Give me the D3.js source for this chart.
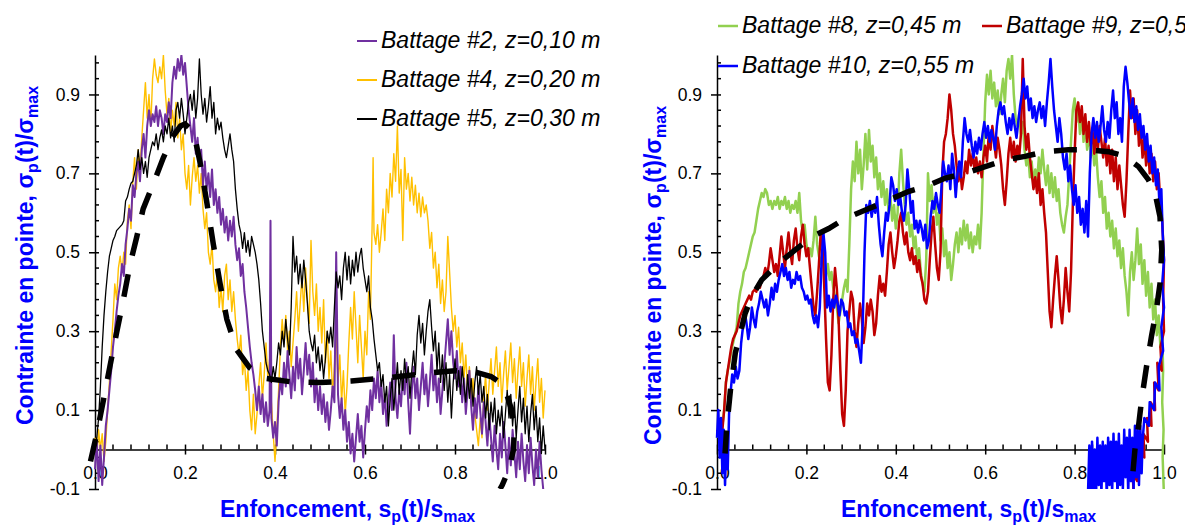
<!DOCTYPE html>
<html><head><meta charset="utf-8">
<script src="https://cdn.jsdelivr.net/npm/d3@7"></script>
<style>body{margin:0;background:#fff}svg{display:block}</style>
</head><body><svg id="c" width="1197" height="525"></svg>
<script>
const xTickValues=[0,0.2,0.4,0.6,0.8,1.0];
const yTickValues=[-0.1,0.1,0.3,0.5,0.7,0.9];
const leftNames=["Battage #2, z=0,10 m","Battage #4, z=0,20 m","Battage #5, z=0,30 m"];
const rightNames=["Battage #8, z=0,45 m","Battage #9, z=0,50 m","Battage #10, z=0,55 m"];

const battage2=[[0.000,-0.05],[0.004,0.02],[0.008,-0.08],[0.012,0.01],[0.016,-0.09],[0.020,-0.02],[0.024,0.06],[0.028,0.10],[0.032,0.15],[0.036,0.20],[0.040,0.26],[0.044,0.30],[0.048,0.35],[0.052,0.39],[0.056,0.42],[0.060,0.47],[0.064,0.44],[0.068,0.52],[0.072,0.56],[0.076,0.61],[0.080,0.58],[0.084,0.67],[0.088,0.64],[0.092,0.70],[0.096,0.73],[0.100,0.68],[0.104,0.76],[0.108,0.80],[0.112,0.74],[0.116,0.82],[0.120,0.86],[0.124,0.82],[0.128,0.85],[0.132,0.83],[0.136,0.87],[0.140,0.82],[0.144,0.86],[0.148,0.84],[0.152,0.80],[0.156,0.85],[0.160,0.83],[0.164,0.88],[0.168,0.84],[0.172,0.93],[0.176,0.97],[0.180,0.94],[0.184,0.99],[0.188,0.96],[0.192,1.00],[0.196,0.95],[0.200,0.98],[0.204,0.92],[0.208,0.86],[0.212,0.82],[0.216,0.78],[0.220,0.84],[0.224,0.75],[0.228,0.79],[0.232,0.72],[0.236,0.76],[0.240,0.67],[0.244,0.73],[0.248,0.66],[0.252,0.70],[0.256,0.64],[0.260,0.71],[0.264,0.62],[0.268,0.66],[0.272,0.60],[0.276,0.64],[0.280,0.57],[0.284,0.61],[0.288,0.55],[0.292,0.59],[0.296,0.53],[0.300,0.58],[0.304,0.54],[0.308,0.59],[0.312,0.52],[0.316,0.48],[0.320,0.51],[0.324,0.44],[0.328,0.47],[0.332,0.40],[0.336,0.36],[0.340,0.31],[0.344,0.26],[0.348,0.22],[0.352,0.19],[0.356,0.15],[0.360,0.10],[0.364,0.16],[0.368,0.09],[0.372,0.14],[0.376,0.07],[0.380,0.12],[0.384,0.06],[0.388,0.10],[0.390,0.58],[0.392,0.08],[0.396,0.03],[0.400,0.07],[0.404,0.01],[0.408,0.12],[0.412,0.18],[0.416,0.14],[0.420,0.22],[0.424,0.16],[0.428,0.25],[0.432,0.19],[0.436,0.13],[0.440,0.21],[0.444,0.15],[0.448,0.26],[0.452,0.18],[0.456,0.23],[0.460,0.14],[0.464,0.20],[0.468,0.27],[0.472,0.19],[0.476,0.24],[0.480,0.16],[0.484,0.22],[0.488,0.12],[0.492,0.18],[0.496,0.10],[0.500,0.16],[0.504,0.09],[0.508,0.14],[0.512,0.07],[0.516,0.12],[0.520,0.05],[0.524,0.10],[0.528,0.16],[0.532,0.12],[0.536,0.50],[0.540,0.14],[0.544,0.08],[0.548,0.13],[0.552,0.05],[0.556,0.10],[0.560,0.02],[0.564,0.07],[0.568,-0.01],[0.572,0.04],[0.576,-0.03],[0.580,0.03],[0.584,0.09],[0.588,0.02],[0.592,0.06],[0.596,-0.02],[0.600,0.05],[0.604,0.11],[0.608,0.07],[0.612,0.15],[0.616,0.10],[0.620,0.18],[0.624,0.13],[0.628,0.20],[0.632,0.12],[0.636,0.17],[0.640,0.09],[0.644,0.14],[0.648,0.06],[0.652,0.12],[0.656,0.17],[0.660,0.10],[0.664,0.29],[0.668,0.13],[0.672,0.08],[0.676,0.15],[0.680,0.11],[0.684,0.19],[0.688,0.14],[0.692,0.22],[0.696,0.12],[0.700,0.04],[0.704,0.15],[0.708,0.21],[0.712,0.13],[0.716,0.18],[0.720,0.10],[0.724,0.16],[0.728,0.22],[0.732,0.14],[0.736,0.19],[0.740,0.11],[0.744,0.17],[0.748,0.24],[0.752,0.15],[0.756,0.20],[0.760,0.12],[0.764,0.18],[0.768,0.09],[0.772,0.15],[0.776,0.21],[0.780,0.27],[0.784,0.33],[0.788,0.24],[0.792,0.30],[0.796,0.22],[0.800,0.18],[0.804,0.25],[0.808,0.16],[0.812,0.21],[0.816,0.12],[0.820,0.18],[0.824,0.09],[0.828,0.15],[0.832,0.20],[0.836,0.11],[0.840,0.05],[0.844,0.13],[0.848,0.08],[0.852,0.16],[0.856,0.10],[0.860,0.04],[0.864,0.12],[0.868,0.07],[0.872,0.01],[0.876,0.09],[0.880,0.03],[0.884,-0.03],[0.888,0.06],[0.892,0.00],[0.896,-0.05],[0.900,0.04],[0.904,-0.02],[0.908,0.07],[0.912,0.01],[0.916,-0.06],[0.920,0.03],[0.924,-0.04],[0.928,0.05],[0.932,-0.01],[0.936,-0.07],[0.940,0.02],[0.944,-0.05],[0.948,0.04],[0.952,-0.03],[0.956,-0.08],[0.960,0.01],[0.964,-0.06],[0.968,0.03],[0.972,-0.04],[0.976,-0.09],[0.980,0.00],[0.984,-0.07],[0.988,0.02],[0.992,-0.05],[0.996,-0.10],[1.000,-0.11]];

const battage4=[[0.000,0.03],[0.004,-0.02],[0.008,0.05],[0.012,0.00],[0.016,0.04],[0.020,-0.03],[0.024,0.02],[0.028,0.10],[0.032,0.17],[0.036,0.25],[0.040,0.33],[0.044,0.42],[0.048,0.38],[0.052,0.46],[0.056,0.49],[0.060,0.45],[0.064,0.50],[0.068,0.47],[0.072,0.58],[0.076,0.62],[0.080,0.56],[0.084,0.68],[0.088,0.74],[0.092,0.66],[0.096,0.76],[0.100,0.71],[0.104,0.79],[0.108,0.86],[0.112,0.93],[0.116,0.84],[0.120,0.90],[0.124,0.82],[0.128,0.94],[0.132,0.99],[0.136,0.95],[0.140,0.93],[0.144,0.97],[0.148,0.94],[0.152,1.00],[0.156,0.91],[0.160,0.85],[0.164,0.89],[0.168,0.80],[0.172,0.86],[0.176,0.82],[0.180,0.88],[0.184,0.79],[0.188,0.84],[0.192,0.76],[0.196,0.80],[0.200,0.70],[0.204,0.66],[0.208,0.72],[0.212,0.62],[0.216,0.69],[0.220,0.74],[0.224,0.68],[0.228,0.72],[0.232,0.65],[0.236,0.70],[0.240,0.61],[0.244,0.56],[0.248,0.60],[0.252,0.50],[0.256,0.47],[0.260,0.52],[0.264,0.43],[0.268,0.40],[0.272,0.45],[0.276,0.36],[0.280,0.41],[0.284,0.35],[0.288,0.44],[0.292,0.47],[0.296,0.38],[0.300,0.43],[0.304,0.35],[0.308,0.40],[0.312,0.33],[0.316,0.28],[0.320,0.24],[0.324,0.29],[0.328,0.19],[0.332,0.23],[0.336,0.15],[0.340,0.20],[0.344,0.10],[0.348,0.05],[0.352,0.14],[0.356,0.04],[0.360,0.09],[0.364,0.16],[0.368,0.22],[0.372,0.13],[0.376,0.19],[0.380,0.27],[0.384,0.18],[0.388,0.23],[0.392,0.12],[0.396,0.04],[0.400,-0.03],[0.404,0.05],[0.408,0.15],[0.412,0.26],[0.416,0.33],[0.420,0.27],[0.424,0.34],[0.428,0.25],[0.432,0.30],[0.436,0.21],[0.440,0.27],[0.444,0.33],[0.448,0.40],[0.452,0.30],[0.456,0.37],[0.460,0.44],[0.464,0.35],[0.468,0.46],[0.472,0.38],[0.476,0.32],[0.480,0.53],[0.484,0.40],[0.488,0.34],[0.492,0.42],[0.496,0.30],[0.500,0.36],[0.504,0.27],[0.508,0.38],[0.512,0.22],[0.516,0.30],[0.520,0.18],[0.524,0.25],[0.528,0.14],[0.532,0.21],[0.536,0.30],[0.540,0.17],[0.544,0.24],[0.548,0.12],[0.552,0.20],[0.556,0.09],[0.560,0.16],[0.564,0.27],[0.568,0.36],[0.572,0.28],[0.576,0.40],[0.580,0.31],[0.584,0.22],[0.588,0.34],[0.592,0.26],[0.596,0.18],[0.600,0.30],[0.604,0.24],[0.608,0.40],[0.612,0.33],[0.616,0.58],[0.618,0.74],[0.620,0.55],[0.624,0.52],[0.628,0.57],[0.632,0.50],[0.636,0.55],[0.640,0.61],[0.644,0.53],[0.648,0.66],[0.652,0.60],[0.656,0.70],[0.660,0.64],[0.664,0.75],[0.668,0.68],[0.672,0.82],[0.676,0.65],[0.680,0.71],[0.684,0.53],[0.688,0.74],[0.692,0.66],[0.696,0.70],[0.700,0.63],[0.704,0.69],[0.708,0.62],[0.712,0.67],[0.716,0.60],[0.720,0.65],[0.724,0.59],[0.728,0.64],[0.732,0.60],[0.736,0.62],[0.740,0.58],[0.744,0.51],[0.748,0.55],[0.752,0.46],[0.756,0.50],[0.760,0.41],[0.764,0.47],[0.768,0.37],[0.772,0.43],[0.776,0.35],[0.780,0.40],[0.784,0.54],[0.788,0.45],[0.792,0.36],[0.796,0.30],[0.800,0.34],[0.804,0.26],[0.808,0.31],[0.812,0.22],[0.816,0.27],[0.820,0.18],[0.824,0.24],[0.828,0.15],[0.832,0.21],[0.836,0.12],[0.840,0.18],[0.844,0.09],[0.848,0.05],[0.852,0.01],[0.856,0.08],[0.860,0.03],[0.864,0.13],[0.868,0.19],[0.872,0.10],[0.876,0.17],[0.880,0.23],[0.884,0.14],[0.888,0.20],[0.892,0.26],[0.896,0.16],[0.900,0.22],[0.904,0.12],[0.908,0.19],[0.912,0.25],[0.916,0.15],[0.920,0.21],[0.924,0.27],[0.928,0.17],[0.932,0.23],[0.936,0.13],[0.940,0.20],[0.944,0.26],[0.948,0.16],[0.952,0.22],[0.956,0.11],[0.960,0.18],[0.964,0.24],[0.968,0.14],[0.972,0.21],[0.976,0.10],[0.980,0.17],[0.984,0.23],[0.988,0.12],[0.992,0.18],[0.996,0.08],[1.000,0.15]];

const battage5=[[0.000,0.00],[0.004,0.03],[0.008,0.08],[0.012,0.16],[0.016,0.26],[0.020,0.34],[0.024,0.40],[0.028,0.45],[0.032,0.49],[0.036,0.51],[0.040,0.53],[0.044,0.54],[0.048,0.555],[0.052,0.56],[0.056,0.565],[0.060,0.57],[0.064,0.58],[0.068,0.63],[0.072,0.64],[0.076,0.66],[0.080,0.675],[0.084,0.68],[0.088,0.70],[0.092,0.72],[0.096,0.76],[0.100,0.71],[0.104,0.74],[0.108,0.70],[0.112,0.73],[0.116,0.69],[0.120,0.74],[0.124,0.76],[0.128,0.78],[0.132,0.77],[0.136,0.80],[0.140,0.76],[0.144,0.79],[0.148,0.81],[0.152,0.78],[0.156,0.82],[0.160,0.80],[0.164,0.84],[0.168,0.79],[0.172,0.82],[0.176,0.78],[0.180,0.86],[0.184,0.88],[0.188,0.84],[0.192,0.89],[0.196,0.85],[0.200,0.80],[0.204,0.84],[0.208,0.88],[0.212,0.90],[0.216,0.86],[0.220,0.91],[0.224,0.84],[0.228,0.89],[0.232,0.99],[0.236,0.90],[0.240,0.85],[0.244,0.89],[0.248,0.83],[0.252,0.87],[0.256,0.92],[0.260,0.84],[0.264,0.88],[0.268,0.80],[0.272,0.84],[0.276,0.81],[0.280,0.83],[0.284,0.79],[0.288,0.76],[0.292,0.74],[0.296,0.77],[0.300,0.80],[0.304,0.76],[0.308,0.73],[0.312,0.66],[0.316,0.61],[0.320,0.57],[0.324,0.55],[0.328,0.51],[0.332,0.55],[0.336,0.50],[0.340,0.53],[0.344,0.49],[0.348,0.54],[0.352,0.52],[0.356,0.50],[0.360,0.47],[0.364,0.43],[0.368,0.37],[0.372,0.30],[0.376,0.26],[0.380,0.22],[0.384,0.20],[0.388,0.19],[0.392,0.17],[0.396,0.21],[0.400,0.18],[0.404,0.22],[0.408,0.27],[0.412,0.24],[0.416,0.30],[0.420,0.26],[0.424,0.33],[0.428,0.28],[0.432,0.24],[0.436,0.36],[0.440,0.54],[0.444,0.45],[0.448,0.49],[0.452,0.42],[0.456,0.47],[0.460,0.41],[0.464,0.48],[0.468,0.43],[0.472,0.37],[0.476,0.30],[0.480,0.27],[0.484,0.25],[0.488,0.29],[0.492,0.22],[0.496,0.26],[0.500,0.20],[0.504,0.24],[0.508,0.18],[0.512,0.23],[0.516,0.30],[0.520,0.27],[0.524,0.31],[0.528,0.26],[0.532,0.36],[0.536,0.45],[0.540,0.41],[0.544,0.44],[0.548,0.38],[0.552,0.46],[0.556,0.50],[0.560,0.43],[0.564,0.49],[0.568,0.42],[0.572,0.48],[0.576,0.44],[0.580,0.50],[0.584,0.45],[0.588,0.49],[0.592,0.51],[0.596,0.46],[0.600,0.43],[0.604,0.40],[0.608,0.44],[0.612,0.36],[0.616,0.33],[0.620,0.28],[0.624,0.24],[0.628,0.20],[0.632,0.22],[0.636,0.16],[0.640,0.19],[0.644,0.12],[0.648,0.16],[0.652,0.06],[0.656,0.13],[0.660,0.18],[0.664,0.10],[0.668,0.16],[0.672,0.22],[0.676,0.14],[0.680,0.20],[0.684,0.15],[0.688,0.23],[0.692,0.17],[0.696,0.21],[0.700,0.13],[0.704,0.20],[0.708,0.25],[0.712,0.19],[0.716,0.29],[0.720,0.34],[0.724,0.27],[0.728,0.32],[0.732,0.24],[0.736,0.30],[0.740,0.35],[0.744,0.38],[0.748,0.31],[0.752,0.25],[0.756,0.30],[0.760,0.20],[0.764,0.27],[0.768,0.17],[0.772,0.24],[0.776,0.15],[0.780,0.22],[0.784,0.12],[0.788,0.19],[0.792,0.08],[0.796,0.17],[0.800,0.23],[0.804,0.15],[0.808,0.20],[0.812,0.14],[0.816,0.21],[0.820,0.16],[0.824,0.12],[0.828,0.19],[0.832,0.13],[0.836,0.18],[0.840,0.11],[0.844,0.17],[0.848,0.21],[0.852,0.14],[0.856,0.19],[0.860,0.12],[0.864,0.16],[0.868,0.08],[0.872,0.14],[0.876,0.05],[0.880,0.12],[0.884,0.07],[0.888,0.13],[0.892,0.04],[0.896,0.10],[0.900,0.06],[0.904,0.11],[0.908,0.03],[0.912,0.09],[0.916,0.15],[0.920,0.08],[0.924,0.14],[0.928,0.06],[0.932,0.12],[0.936,0.03],[0.940,0.10],[0.944,0.16],[0.948,0.07],[0.952,0.13],[0.956,0.04],[0.960,0.11],[0.964,0.02],[0.968,0.09],[0.972,0.14],[0.976,0.05],[0.980,0.11],[0.984,0.02],[0.988,0.08],[0.992,-0.01],[0.996,0.06],[1.000,0.00]];

const fitLeft=[[-0.010,-0.03],[0.004,0.04],[0.019,0.127],[0.033,0.21],[0.048,0.296],[0.063,0.38],[0.078,0.47],[0.093,0.54],[0.107,0.61],[0.130,0.675],[0.152,0.74],[0.174,0.795],[0.190,0.82],[0.200,0.825],[0.210,0.815],[0.222,0.79],[0.233,0.73],[0.248,0.63],[0.263,0.52],[0.278,0.42],[0.293,0.33],[0.315,0.253],[0.344,0.207],[0.381,0.18],[0.433,0.172],[0.500,0.17],[0.570,0.174],[0.660,0.183],[0.750,0.195],[0.800,0.20],[0.850,0.195],[0.880,0.185],[0.900,0.17],[0.915,0.14],[0.926,0.10],[0.932,0.05],[0.930,0.00],[0.920,-0.05],[0.905,-0.09],[0.900,-0.10]];

const battage8=[[0.000,0.03],[0.004,0.05],[0.008,0.02],[0.012,0.06],[0.016,0.10],[0.020,0.17],[0.024,0.20],[0.028,0.22],[0.032,0.25],[0.036,0.27],[0.040,0.29],[0.044,0.31],[0.048,0.37],[0.052,0.40],[0.056,0.42],[0.060,0.45],[0.064,0.46],[0.068,0.48],[0.072,0.50],[0.076,0.52],[0.080,0.54],[0.084,0.55],[0.088,0.58],[0.092,0.61],[0.096,0.63],[0.100,0.65],[0.104,0.64],[0.108,0.66],[0.112,0.65],[0.116,0.62],[0.120,0.63],[0.124,0.61],[0.128,0.63],[0.132,0.62],[0.136,0.64],[0.140,0.61],[0.144,0.63],[0.148,0.62],[0.152,0.64],[0.156,0.61],[0.160,0.63],[0.164,0.60],[0.168,0.62],[0.172,0.61],[0.176,0.63],[0.180,0.60],[0.184,0.65],[0.188,0.58],[0.192,0.55],[0.196,0.57],[0.200,0.52],[0.204,0.50],[0.208,0.51],[0.212,0.49],[0.216,0.53],[0.220,0.59],[0.224,0.52],[0.228,0.49],[0.232,0.47],[0.236,0.50],[0.240,0.46],[0.244,0.44],[0.248,0.47],[0.252,0.43],[0.256,0.45],[0.260,0.41],[0.264,0.39],[0.268,0.36],[0.272,0.32],[0.276,0.35],[0.280,0.38],[0.284,0.41],[0.288,0.43],[0.292,0.40],[0.296,0.52],[0.300,0.66],[0.304,0.73],[0.308,0.68],[0.312,0.78],[0.316,0.70],[0.320,0.76],[0.324,0.66],[0.328,0.72],[0.332,0.80],[0.336,0.71],[0.340,0.81],[0.344,0.73],[0.348,0.77],[0.352,0.69],[0.356,0.74],[0.360,0.66],[0.364,0.70],[0.368,0.64],[0.372,0.68],[0.376,0.62],[0.380,0.66],[0.384,0.60],[0.388,0.64],[0.392,0.58],[0.396,0.62],[0.400,0.56],[0.404,0.60],[0.408,0.70],[0.412,0.76],[0.416,0.68],[0.420,0.62],[0.424,0.57],[0.428,0.60],[0.432,0.54],[0.436,0.57],[0.440,0.51],[0.444,0.54],[0.448,0.48],[0.452,0.51],[0.456,0.45],[0.460,0.42],[0.464,0.40],[0.468,0.48],[0.472,0.70],[0.476,0.63],[0.480,0.67],[0.484,0.60],[0.488,0.64],[0.492,0.57],[0.496,0.60],[0.500,0.53],[0.504,0.56],[0.508,0.49],[0.512,0.53],[0.516,0.46],[0.520,0.50],[0.524,0.43],[0.528,0.47],[0.532,0.52],[0.536,0.55],[0.540,0.50],[0.544,0.56],[0.548,0.52],[0.552,0.58],[0.556,0.53],[0.560,0.57],[0.564,0.51],[0.568,0.55],[0.572,0.50],[0.576,0.54],[0.580,0.52],[0.584,0.57],[0.588,0.51],[0.592,0.60],[0.596,0.75],[0.600,0.88],[0.604,0.95],[0.608,0.90],[0.612,0.96],[0.616,0.89],[0.620,0.93],[0.624,0.87],[0.628,0.91],[0.632,0.85],[0.636,0.90],[0.640,0.94],[0.644,0.88],[0.648,0.96],[0.652,0.99],[0.656,0.94],[0.660,1.00],[0.664,0.90],[0.668,0.84],[0.672,0.82],[0.676,0.85],[0.680,0.80],[0.684,0.83],[0.688,0.76],[0.692,0.72],[0.696,0.75],[0.700,0.69],[0.704,0.73],[0.708,0.67],[0.712,0.71],[0.716,0.68],[0.720,0.74],[0.724,0.70],[0.728,0.76],[0.732,0.71],[0.736,0.67],[0.740,0.72],[0.744,0.65],[0.748,0.70],[0.752,0.64],[0.756,0.69],[0.760,0.63],[0.764,0.66],[0.768,0.60],[0.772,0.57],[0.776,0.55],[0.780,0.59],[0.784,0.62],[0.788,0.70],[0.792,0.78],[0.796,0.86],[0.800,0.89],[0.804,0.83],[0.808,0.87],[0.812,0.80],[0.816,0.85],[0.820,0.78],[0.824,0.83],[0.828,0.76],[0.832,0.81],[0.836,0.74],[0.840,0.78],[0.844,0.72],[0.848,0.76],[0.852,0.69],[0.856,0.64],[0.860,0.68],[0.864,0.60],[0.868,0.64],[0.872,0.56],[0.876,0.60],[0.880,0.54],[0.884,0.58],[0.888,0.51],[0.892,0.56],[0.896,0.49],[0.900,0.53],[0.904,0.46],[0.908,0.51],[0.912,0.44],[0.916,0.40],[0.920,0.34],[0.924,0.45],[0.928,0.50],[0.932,0.43],[0.936,0.48],[0.940,0.56],[0.944,0.47],[0.948,0.52],[0.952,0.42],[0.956,0.48],[0.960,0.39],[0.964,0.45],[0.968,0.36],[0.972,0.42],[0.976,0.33],[0.980,0.38],[0.984,0.29],[0.988,0.34],[0.992,0.26],[0.996,0.30],[0.998,0.20],[0.996,0.12],[0.999,0.05],[0.997,-0.02],[1.000,-0.12]];

const battage9=[[0.000,0.05],[0.004,0.04],[0.008,0.06],[0.012,0.05],[0.016,0.10],[0.020,0.17],[0.024,0.20],[0.028,0.23],[0.032,0.26],[0.036,0.28],[0.040,0.29],[0.044,0.30],[0.048,0.32],[0.052,0.34],[0.056,0.35],[0.060,0.36],[0.064,0.37],[0.068,0.38],[0.072,0.39],[0.076,0.38],[0.080,0.40],[0.084,0.405],[0.088,0.40],[0.092,0.42],[0.096,0.41],[0.100,0.43],[0.104,0.44],[0.108,0.46],[0.112,0.44],[0.116,0.47],[0.120,0.51],[0.124,0.48],[0.128,0.45],[0.132,0.47],[0.136,0.44],[0.140,0.49],[0.144,0.54],[0.148,0.50],[0.152,0.46],[0.156,0.51],[0.160,0.55],[0.164,0.50],[0.168,0.47],[0.172,0.53],[0.176,0.56],[0.180,0.51],[0.184,0.48],[0.188,0.54],[0.192,0.57],[0.196,0.52],[0.200,0.49],[0.204,0.51],[0.208,0.46],[0.212,0.41],[0.216,0.36],[0.220,0.34],[0.224,0.40],[0.228,0.47],[0.232,0.55],[0.236,0.52],[0.240,0.41],[0.244,0.28],[0.248,0.17],[0.252,0.15],[0.256,0.24],[0.260,0.38],[0.264,0.46],[0.268,0.41],[0.272,0.33],[0.276,0.20],[0.280,0.09],[0.284,0.06],[0.288,0.15],[0.292,0.30],[0.296,0.35],[0.300,0.40],[0.304,0.38],[0.308,0.30],[0.312,0.26],[0.316,0.32],[0.320,0.37],[0.324,0.33],[0.328,0.27],[0.332,0.31],[0.336,0.37],[0.340,0.34],[0.344,0.38],[0.348,0.35],[0.352,0.29],[0.356,0.32],[0.360,0.39],[0.364,0.44],[0.368,0.40],[0.372,0.42],[0.376,0.39],[0.380,0.45],[0.384,0.52],[0.388,0.55],[0.392,0.50],[0.396,0.46],[0.400,0.49],[0.404,0.53],[0.408,0.58],[0.412,0.60],[0.416,0.55],[0.420,0.52],[0.424,0.55],[0.428,0.50],[0.432,0.48],[0.436,0.51],[0.440,0.47],[0.444,0.49],[0.448,0.45],[0.452,0.48],[0.456,0.44],[0.460,0.42],[0.464,0.38],[0.468,0.37],[0.472,0.40],[0.476,0.48],[0.480,0.55],[0.484,0.59],[0.488,0.52],[0.492,0.46],[0.496,0.43],[0.500,0.50],[0.504,0.70],[0.508,0.78],[0.512,0.80],[0.516,0.84],[0.520,0.90],[0.524,0.86],[0.528,0.80],[0.532,0.77],[0.536,0.72],[0.540,0.68],[0.544,0.71],[0.548,0.66],[0.552,0.69],[0.556,0.73],[0.560,0.70],[0.564,0.76],[0.568,0.72],[0.572,0.75],[0.576,0.71],[0.580,0.74],[0.584,0.70],[0.588,0.73],[0.592,0.69],[0.596,0.74],[0.600,0.77],[0.604,0.73],[0.608,0.80],[0.612,0.76],[0.616,0.82],[0.620,0.78],[0.624,0.74],[0.628,0.79],[0.632,0.76],[0.636,0.72],[0.640,0.66],[0.644,0.62],[0.648,0.68],[0.652,0.75],[0.656,0.79],[0.660,0.74],[0.664,0.78],[0.668,0.73],[0.672,0.77],[0.676,0.74],[0.680,0.80],[0.684,0.99],[0.688,0.82],[0.692,0.76],[0.696,0.80],[0.700,0.74],[0.704,0.70],[0.708,0.66],[0.712,0.69],[0.716,0.65],[0.720,0.70],[0.724,0.62],[0.728,0.66],[0.732,0.60],[0.736,0.55],[0.740,0.45],[0.744,0.35],[0.748,0.31],[0.752,0.38],[0.756,0.44],[0.760,0.49],[0.764,0.43],[0.768,0.36],[0.772,0.32],[0.776,0.38],[0.780,0.46],[0.784,0.40],[0.788,0.35],[0.792,0.45],[0.796,0.62],[0.800,0.75],[0.804,0.86],[0.808,0.88],[0.812,0.83],[0.816,0.87],[0.820,0.80],[0.824,0.85],[0.828,0.78],[0.832,0.83],[0.836,0.77],[0.840,0.81],[0.844,0.75],[0.848,0.80],[0.852,0.76],[0.856,0.82],[0.860,0.78],[0.864,0.74],[0.868,0.79],[0.872,0.72],[0.876,0.77],[0.880,0.70],[0.884,0.76],[0.888,0.68],[0.892,0.74],[0.896,0.66],[0.900,0.72],[0.904,0.67],[0.908,0.62],[0.912,0.59],[0.916,0.68],[0.920,0.80],[0.924,0.91],[0.928,0.84],[0.932,0.89],[0.936,0.80],[0.940,0.86],[0.944,0.77],[0.948,0.82],[0.952,0.74],[0.956,0.79],[0.960,0.72],[0.964,0.77],[0.968,0.70],[0.972,0.75],[0.976,0.68],[0.980,0.73],[0.984,0.66],[0.988,0.70],[0.992,0.62],[0.996,0.58],[1.000,0.48],[0.998,0.38],[1.000,0.30],[0.992,0.26],[0.995,0.20],[0.985,0.22],[0.988,0.15],[0.978,0.17],[0.980,0.10],[0.970,0.12],[0.972,0.06],[0.962,0.08],[0.964,0.02],[0.954,0.04],[0.956,-0.02],[0.946,0.00],[0.948,-0.05],[0.938,-0.03],[0.940,-0.08],[0.930,-0.06],[0.932,-0.11]];

const battage10=[[0.000,0.03],[0.003,0.10],[0.006,-0.02],[0.009,0.08],[0.012,-0.06],[0.015,0.05],[0.018,-0.09],[0.021,0.03],[0.024,-0.05],[0.027,0.09],[0.030,0.14],[0.034,0.19],[0.038,0.17],[0.042,0.21],[0.046,0.18],[0.050,0.20],[0.054,0.27],[0.058,0.31],[0.062,0.35],[0.066,0.32],[0.070,0.28],[0.074,0.31],[0.078,0.36],[0.082,0.33],[0.086,0.31],[0.090,0.35],[0.094,0.37],[0.098,0.40],[0.102,0.38],[0.106,0.36],[0.110,0.38],[0.114,0.34],[0.118,0.37],[0.122,0.41],[0.126,0.38],[0.130,0.42],[0.134,0.40],[0.138,0.43],[0.142,0.45],[0.146,0.47],[0.150,0.44],[0.154,0.46],[0.158,0.43],[0.162,0.45],[0.166,0.41],[0.170,0.43],[0.174,0.42],[0.178,0.45],[0.182,0.43],[0.186,0.44],[0.190,0.41],[0.194,0.40],[0.198,0.38],[0.202,0.39],[0.206,0.37],[0.210,0.38],[0.214,0.34],[0.218,0.32],[0.222,0.34],[0.226,0.31],[0.230,0.36],[0.234,0.48],[0.238,0.55],[0.242,0.50],[0.246,0.36],[0.250,0.39],[0.254,0.35],[0.258,0.38],[0.262,0.36],[0.266,0.39],[0.270,0.37],[0.274,0.34],[0.278,0.38],[0.282,0.37],[0.286,0.34],[0.290,0.35],[0.294,0.31],[0.298,0.32],[0.302,0.29],[0.306,0.30],[0.310,0.27],[0.314,0.28],[0.318,0.25],[0.322,0.22],[0.326,0.32],[0.330,0.50],[0.334,0.62],[0.338,0.60],[0.342,0.63],[0.346,0.59],[0.350,0.62],[0.354,0.60],[0.358,0.64],[0.362,0.57],[0.366,0.52],[0.370,0.49],[0.374,0.55],[0.378,0.60],[0.382,0.58],[0.386,0.62],[0.390,0.69],[0.394,0.67],[0.398,0.63],[0.402,0.66],[0.406,0.62],[0.410,0.64],[0.414,0.60],[0.418,0.58],[0.422,0.62],[0.426,0.71],[0.430,0.66],[0.434,0.60],[0.438,0.63],[0.442,0.56],[0.446,0.58],[0.450,0.55],[0.454,0.58],[0.458,0.56],[0.462,0.53],[0.466,0.57],[0.470,0.51],[0.474,0.53],[0.478,0.59],[0.482,0.63],[0.486,0.61],[0.490,0.65],[0.494,0.62],[0.498,0.60],[0.502,0.66],[0.506,0.73],[0.510,0.70],[0.514,0.68],[0.518,0.72],[0.522,0.66],[0.526,0.75],[0.530,0.71],[0.534,0.64],[0.538,0.70],[0.542,0.73],[0.546,0.69],[0.550,0.78],[0.554,0.84],[0.558,0.80],[0.562,0.78],[0.566,0.81],[0.570,0.77],[0.574,0.74],[0.578,0.78],[0.582,0.75],[0.586,0.79],[0.590,0.76],[0.594,0.80],[0.598,0.83],[0.602,0.79],[0.606,0.82],[0.610,0.78],[0.614,0.81],[0.618,0.79],[0.622,0.76],[0.626,0.82],[0.630,0.86],[0.634,0.88],[0.638,0.85],[0.642,0.87],[0.646,0.83],[0.650,0.80],[0.654,0.84],[0.658,0.81],[0.662,0.85],[0.666,0.82],[0.670,0.79],[0.674,0.83],[0.678,0.87],[0.682,0.90],[0.686,0.94],[0.690,0.89],[0.694,0.92],[0.698,0.86],[0.702,0.89],[0.706,0.84],[0.710,0.87],[0.714,0.83],[0.718,0.86],[0.722,0.88],[0.726,0.84],[0.730,0.87],[0.734,0.82],[0.738,0.88],[0.742,0.93],[0.746,0.99],[0.750,0.92],[0.754,0.86],[0.758,0.82],[0.762,0.78],[0.766,0.84],[0.770,0.80],[0.774,0.74],[0.778,0.71],[0.782,0.75],[0.786,0.68],[0.790,0.72],[0.794,0.66],[0.798,0.62],[0.802,0.67],[0.806,0.60],[0.810,0.64],[0.814,0.57],[0.818,0.61],[0.822,0.55],[0.826,0.63],[0.830,0.54],[0.834,0.70],[0.838,0.80],[0.842,0.84],[0.846,0.79],[0.850,0.83],[0.854,0.78],[0.858,0.82],[0.862,0.87],[0.866,0.81],[0.870,0.78],[0.874,0.83],[0.878,0.79],[0.882,0.86],[0.886,0.91],[0.890,0.84],[0.894,0.88],[0.898,0.80],[0.902,0.84],[0.906,0.78],[0.910,0.92],[0.914,0.97],[0.918,0.93],[0.922,0.88],[0.926,0.84],[0.930,0.89],[0.934,0.83],[0.938,0.87],[0.942,0.81],[0.946,0.85],[0.950,0.79],[0.954,0.82],[0.958,0.76],[0.962,0.80],[0.966,0.73],[0.970,0.77],[0.974,0.70],[0.978,0.74],[0.982,0.67],[0.986,0.71],[0.990,0.62],[0.994,0.66],[0.997,0.55],[1.000,0.48],[0.996,0.42],[1.000,0.36],[0.994,0.31],[0.998,0.25],[0.988,0.21],[0.990,0.15],[0.980,0.17],[0.978,0.10],[0.968,0.12],[0.966,0.06],[0.956,0.08],[0.952,0.02],[0.950,-0.06],[0.947,0.06],[0.944,-0.09],[0.941,0.05],[0.938,-0.07],[0.935,0.06],[0.932,-0.10],[0.929,0.03],[0.926,-0.08],[0.923,0.05],[0.920,-0.11],[0.917,0.03],[0.914,-0.07],[0.911,0.05],[0.908,-0.10],[0.905,0.01],[0.902,-0.09],[0.899,0.04],[0.896,-0.12],[0.893,0.02],[0.890,-0.08],[0.887,0.04],[0.884,-0.11],[0.881,0.02],[0.878,-0.09],[0.875,0.03],[0.872,-0.12],[0.869,0.01],[0.866,-0.08],[0.863,0.02],[0.860,-0.11],[0.857,0.01],[0.854,-0.09],[0.851,0.03],[0.848,-0.12],[0.845,0.00],[0.842,-0.10],[0.839,0.02],[0.836,-0.12],[0.833,0.01],[0.830,-0.11]];

const fitRight=[[0.018,-0.01],[0.022,0.06],[0.030,0.15],[0.041,0.245],[0.049,0.28],[0.063,0.345],[0.078,0.388],[0.100,0.43],[0.138,0.472],[0.175,0.506],[0.213,0.54],[0.250,0.56],[0.287,0.586],[0.332,0.607],[0.376,0.628],[0.428,0.654],[0.466,0.666],[0.511,0.688],[0.555,0.70],[0.600,0.717],[0.645,0.734],[0.689,0.743],[0.734,0.755],[0.786,0.76],[0.831,0.76],[0.876,0.755],[0.913,0.743],[0.943,0.717],[0.965,0.684],[0.980,0.65],[0.991,0.59],[0.995,0.506],[0.991,0.42],[0.983,0.355],[0.972,0.287],[0.961,0.211],[0.950,0.127],[0.943,0.059],[0.935,0.00],[0.931,-0.051],[0.928,-0.10]];

const FONT="'Liberation Sans', Arial, Helvetica, sans-serif";
const svg=d3.select("#c");
const defs=svg.append("defs");
// chart-area clip: the original chart area ends just before the window edge
defs.append("clipPath").attr("id","chartArea").append("rect").attr("x",0).attr("y",0).attr("width",1185).attr("height",525);
const y=d3.scaleLinear().domain([-0.1,1.0]).range([489,55]);
const minorY=d3.range(0,28).filter(i=>i%5!==0).map(i=>-0.1+0.04*i);
const minorX=d3.range(0,26).filter(i=>i%5!==0).map(i=>0.04*i);

function axisTitle(sel){
  sel.append("tspan").text("Enfoncement, s");
  sel.append("tspan").attr("font-size",16).attr("dy",5).text("p");
  sel.append("tspan").attr("dy",-5).text("(t)/s");
  sel.append("tspan").attr("font-size",16).attr("dy",5).text("max");
}
function yTitle(sel){
  sel.append("tspan").text("Contrainte en pointe, \u03c3");
  sel.append("tspan").attr("font-size",16).attr("dy",5).text("p");
  sel.append("tspan").attr("dy",-5).text("(t)/\u03c3");
  sel.append("tspan").attr("font-size",16).attr("dy",5).text("max");
}

function panel(cfg){
  const x=d3.scaleLinear().domain([0,1]).range(cfg.range);
  const g=svg.append("g");
  defs.append("clipPath").attr("id",cfg.id).append("rect")
    .attr("x",x(0)-8).attr("y",y(1.0)).attr("width",x(1)-x(0)+10).attr("height",y(-0.1)-y(1.0));
  const ya=g.append("g").attr("transform",`translate(${x(0)},0)`)
    .call(d3.axisLeft(y).tickValues(yTickValues).tickSizeInner(6).tickSizeOuter(0).tickPadding(9).tickFormat(d=>d.toFixed(1)));
  ya.selectAll("line").attr("x2",-6).attr("x1",4);
  ya.selectAll("g.minor").data(minorY).enter().append("line")
    .attr("x1",0).attr("x2",4).attr("y1",d=>y(d)).attr("y2",d=>y(d));
  const xa=g.append("g").attr("transform",`translate(0,${y(0)})`)
    .call(d3.axisBottom(x).tickValues(xTickValues).tickSizeInner(5).tickSizeOuter(0).tickPadding(12).tickFormat(d=>d.toFixed(1)));
  xa.selectAll("line").attr("y1",-5).attr("y2",5);
  xa.selectAll("g.minor").data(minorX).enter().append("line")
    .attr("y1",0).attr("y2",-5).attr("x1",d=>x(d)).attr("x2",d=>x(d));
  [ya,xa].forEach(a=>{
    a.selectAll("path,line").attr("stroke","#000").attr("stroke-width",1.5);
    a.selectAll("text").attr("font-family",FONT).attr("font-size",17.5).attr("fill","#000");
  });
  const line=d3.line().x(d=>x(d[0])).y(d=>y(d[1]));
  const plot=g.append("g").attr("clip-path",`url(#${cfg.id})`);
  cfg.series.forEach(s=>{
    plot.append("path").datum(s.data).attr("d",line).attr("fill","none")
      .attr("stroke",s.color).attr("stroke-width",s.w).attr("stroke-linejoin","round");
  });
  plot.append("path").datum(cfg.fit).attr("d",line).attr("fill","none")
    .attr("stroke","#000").attr("stroke-width",5.5).attr("stroke-dasharray","23,19");
  g.append("text").attr("x",cfg.xTitleX).attr("y",517).attr("font-family",FONT).attr("font-weight","bold")
    .attr("font-size",23).attr("fill","#0000ff").call(axisTitle);
  g.append("text").attr("transform",`translate(${cfg.yTitleX},${cfg.yTitleY}) rotate(-90)`)
    .attr("font-family",FONT).attr("font-weight","bold").attr("font-size",23).attr("fill","#0000ff").call(yTitle);
  const leg=g.append("g").attr("clip-path","url(#chartArea)");
  cfg.legend.forEach(l=>{
    const lg=leg.append("g");
    lg.append("line").attr("x1",l.x).attr("x2",l.x+20).attr("y1",l.y-7).attr("y2",l.y-7)
      .attr("stroke",l.color).attr("stroke-width",l.w);
    lg.append("text").attr("x",l.x+24).attr("y",l.y).attr("font-family",FONT).attr("font-style","italic")
      .attr("font-size",23).attr("fill","#000").text(l.name);
  });
}

panel({id:"clipL",range:[95,545],
  series:[{data:battage4,color:"#FFC000",w:1.4},{data:battage2,color:"#7030A0",w:2},{data:battage5,color:"#000000",w:1.3}],
  fit:fitLeft,xTitleX:220,yTitleX:33,yTitleY:425,
  legend:[{name:leftNames[0],color:"#7030A0",x:357,y:48,w:2},{name:leftNames[1],color:"#FFC000",x:357,y:87,w:2},{name:leftNames[2],color:"#000000",x:357,y:126,w:2}]});

panel({id:"clipR",range:[717,1164],
  series:[{data:battage8,color:"#92D050",w:2.5},{data:battage9,color:"#C00000",w:2.5},{data:battage10,color:"#0000FF",w:2.5}],
  fit:fitRight,xTitleX:841,yTitleX:661,yTitleY:445,
  legend:[{name:rightNames[0],color:"#92D050",x:718,y:33,w:2.5},{name:rightNames[1],color:"#C00000",x:982,y:33,w:2.5},{name:rightNames[2],color:"#0000FF",x:718,y:73,w:2.5}]});
</script></body></html>
